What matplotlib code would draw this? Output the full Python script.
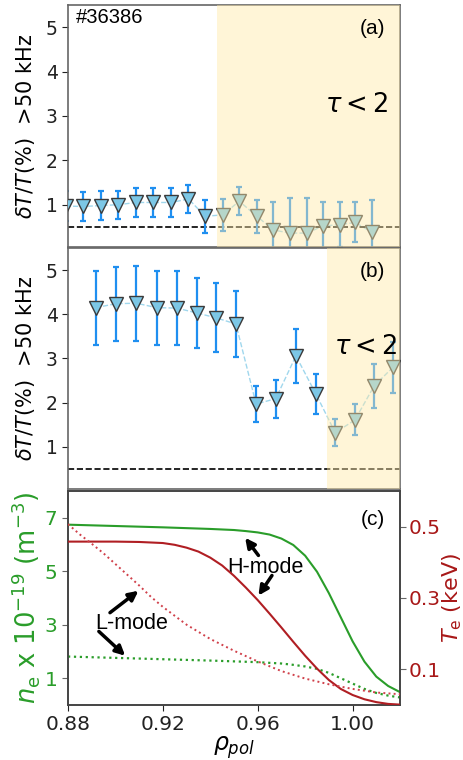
import matplotlib
matplotlib.use('Agg')
import matplotlib.pyplot as plt

# ---------------- data ----------------
rho_a = [0.8790, 0.8862, 0.8938, 0.9012, 0.9087, 0.9160, 0.9235, 0.9308, 0.9378,
         0.9453, 0.9522, 0.9596, 0.9666, 0.9737, 0.9807, 0.9875, 0.9945, 1.0011, 1.0081]
dT_a = [0.97, 0.96, 0.98, 1.00, 1.05, 1.05, 1.05, 1.13, 0.74,
        0.77, 1.08, 0.74, 0.43, 0.36, 0.36, 0.52, 0.55, 0.60, 0.38]
err_a = [0.33, 0.33, 0.33, 0.32, 0.32, 0.32, 0.32, 0.32, 0.37,
         0.36, 0.32, 0.37, 0.62, 0.78, 0.79, 0.53, 0.50, 0.45, 0.72]

rho_b = [0.8917, 0.9003, 0.9088, 0.9174, 0.9259, 0.9343, 0.9424, 0.9508,
         0.9593, 0.9676, 0.9761, 0.9845, 0.9927, 1.0010, 1.0091, 1.0170]
dT_b = [4.15, 4.24, 4.25, 4.15, 4.14, 4.03, 3.92, 3.78,
        1.97, 2.09, 3.06, 2.20, 1.32, 1.61, 2.38, 2.80]
err_b = [0.84, 0.84, 0.85, 0.84, 0.83, 0.80, 0.78, 0.75,
         0.40, 0.43, 0.61, 0.45, 0.31, 0.35, 0.49, 0.58]

shade_a = 0.9427
shade_b = 0.989
noise_level = 0.5

rho_ne_H = [0.88, 0.90, 0.92, 0.94, 0.95, 0.955, 0.96, 0.965, 0.97, 0.975, 0.98,
            0.985, 0.99, 0.995, 1.00, 1.005, 1.01, 1.015, 1.02]
ne_H = [6.74, 6.69, 6.64, 6.58, 6.54, 6.50, 6.45, 6.37, 6.22, 5.98, 5.58,
        4.98, 4.18, 3.28, 2.38, 1.62, 1.06, 0.71, 0.48]

rho_Te_H = [0.88, 0.90, 0.91, 0.92, 0.925, 0.93, 0.935, 0.94, 0.945, 0.95, 0.955,
            0.96, 0.965, 0.97, 0.975, 0.98, 0.985, 0.99, 0.995, 1.00, 1.005,
            1.01, 1.015, 1.02]
Te_H = [0.458, 0.458, 0.457, 0.454, 0.449, 0.441, 0.430, 0.413, 0.391, 0.362, 0.329,
        0.294, 0.256, 0.217, 0.177, 0.138, 0.102, 0.070, 0.045, 0.028, 0.016,
        0.008, 0.003, 0.001]

rho_Te_L = [0.88, 0.885, 0.89, 0.895, 0.90, 0.905, 0.91, 0.915, 0.92, 0.93, 0.94,
            0.95, 0.96, 0.97, 0.98, 0.99, 1.00, 1.01, 1.02]
Te_L = [0.507, 0.478, 0.452, 0.425, 0.395, 0.365, 0.335, 0.303, 0.275, 0.225, 0.185,
        0.152, 0.122, 0.095, 0.074, 0.058, 0.045, 0.035, 0.030]

rho_ne_L = [0.88, 0.90, 0.92, 0.94, 0.96, 0.97, 0.975, 0.98, 0.985, 0.99, 0.995,
            1.00, 1.005, 1.01, 1.015, 1.02]
ne_L = [1.81, 1.76, 1.71, 1.66, 1.60, 1.55, 1.50, 1.44, 1.35, 1.20, 1.00,
        0.80, 0.60, 0.45, 0.35, 0.28]

xticks = [0.88, 0.92, 0.96, 1.00]
xticklabels = ['0.88', '0.92', '0.96', '1.00']

# ---------------- style ----------------
GREEN = '#2a9d2a'
RED = '#b01e23'
RED_TXT = '#a81818'
SPINE = '#666666'
SHADE = '#ffe9a8'

fig = plt.figure(figsize=(4.64, 7.6), dpi=100)
L, W = 0.1466, 0.7155
axa = fig.add_axes([L, 0.6746, W, 0.3188])
axb = fig.add_axes([L, 0.3562, W, 0.3175])
axc = fig.add_axes([L, 0.0724, W, 0.2816])


def fluct_panel(ax, rho, val, err, shade_start, label):
    ax.plot(rho, val, '--', color='#8fd0ea', lw=1.0, alpha=0.85, zorder=2)
    ax.errorbar(rho, val, yerr=err, fmt='none', ecolor='#1f8ff0',
                elinewidth=1.6, capsize=2.5, capthick=1.6, zorder=2.5)
    ax.plot(rho, val, 'v', ms=10.5, mfc='#7cc7e6', mec='#3a3a3a', mew=1.0,
            zorder=3, clip_on=True)
    ax.axhline(noise_level, color='k', ls='--', lw=1.2, zorder=2)
    ax.axvspan(shade_start, 1.03, color=SHADE, alpha=0.45, lw=0, zorder=4)
    ax.set_xlim(0.88, 1.02)
    ax.set_ylim(0.04, 5.5)
    ax.set_yticks([1, 2, 3, 4, 5])
    ax.tick_params(axis='y', labelsize=13.5, colors='#222', length=4)
    ax.tick_params(axis='x', length=0, labelbottom=False)
    for s in ax.spines.values():
        s.set_color(SPINE)
        s.set_linewidth(1.2)
    ax.set_ylabel(r'$\delta T/T$(%)  >50 kHz', fontsize=15, labelpad=6)
    ax.text(0.918, 0.903, label, transform=ax.transAxes, ha='center',
            va='center', fontsize=15, family='Liberation Sans', zorder=6)


fluct_panel(axa, rho_a, dT_a, err_a, shade_a, '(a)')
fluct_panel(axb, rho_b, dT_b, err_b, shade_b, '(b)')

axa.text(0.024, 0.949, '#36386', transform=axa.transAxes, ha='left',
         va='center', fontsize=14.5, family='Liberation Sans', zorder=6)
axa.text(0.870, 0.587, r'$\tau < 2$', transform=axa.transAxes, ha='center',
         va='center', fontsize=18.5, zorder=6)
axb.text(0.895, 0.591, r'$\tau < 2$', transform=axb.transAxes, ha='center',
         va='center', fontsize=18.5, zorder=6)

# ---------------- panel (c) ----------------
axc2 = axc.twinx()
axc.plot(rho_ne_H, ne_H, '-', color=GREEN, lw=1.5, zorder=3)
axc.plot(rho_ne_L, ne_L, ':', color=GREEN, lw=1.6, zorder=3)
axc2.plot(rho_Te_H, Te_H, '-', color=RED, lw=1.5, zorder=3)
axc2.plot(rho_Te_L, Te_L, ':', color='#d0404a', lw=1.4, zorder=3)

axc.set_xlim(0.88, 1.02)
axc.set_ylim(0, 8)
axc2.set_ylim(0, 0.6)
axc.set_xticks(xticks)
axc.set_xticklabels(xticklabels)
axc.set_yticks([1, 3, 5, 7])
axc2.set_yticks([0.1, 0.3, 0.5])
axc.tick_params(axis='x', labelsize=14.5, colors='#222', length=4)
axc.tick_params(axis='y', labelsize=14.5, labelcolor=GREEN, color=SPINE, length=4)
axc2.tick_params(axis='y', labelsize=14.5, labelcolor=RED_TXT, color=SPINE,
                 length=4, pad=2)
for a in (axc, axc2):
    for s in a.spines.values():
        s.set_color('#444444')
        s.set_linewidth(1.2)

axc.set_ylabel(r'$n_\mathrm{e}$ x 10$^{-19}$ (m$^{-3}$)', color=GREEN,
               fontsize=18.5, labelpad=2)
axc2.set_ylabel(r'$T_\mathrm{e}$ (keV)', color=RED_TXT, fontsize=16, labelpad=0)
axc.set_xlabel(r'$\rho_{pol}$', fontsize=17, labelpad=0)

axc.text(0.918, 0.868, '(c)', transform=axc.transAxes, ha='center',
         va='center', fontsize=15, family='Liberation Sans', zorder=6)

arrow_kw = dict(arrowstyle='-|>', color='k', lw=2.5, mutation_scale=14,
                shrinkA=0, shrinkB=0)
axc.text(0.9632, 5.13, 'H-mode', ha='center', va='center', fontsize=15.5,
         family='Liberation Sans', zorder=6)
axc.annotate('', xy=(0.9547, 6.25), xytext=(0.9603, 5.59), arrowprops=arrow_kw)
axc.annotate('', xy=(0.9603, 4.09), xytext=(0.9660, 4.84), arrowprops=arrow_kw)
axc.text(0.9069, 3.05, 'L-mode', ha='center', va='center', fontsize=15.5,
         family='Liberation Sans', zorder=6)
axc.annotate('', xy=(0.9097, 4.27), xytext=(0.8977, 3.45), arrowprops=arrow_kw)
axc.annotate('', xy=(0.9041, 1.84), xytext=(0.8930, 2.75), arrowprops=arrow_kw)

fig.savefig('out.png', dpi=100)
